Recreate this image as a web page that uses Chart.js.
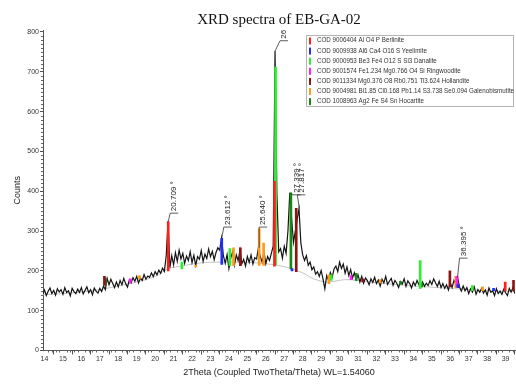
<!DOCTYPE html>
<html>
<head>
<meta charset="utf-8">
<script src="https://cdn.jsdelivr.net/npm/chart.js@4.4.0/dist/chart.umd.min.js"></script>
<style>
  html, body { margin: 0; padding: 0; background: #fff; overflow: hidden; }
  #wrap { width: 516px; height: 387px; }
</style>
</head>
<body>
<div id="wrap"><canvas id="c" width="516" height="387"></canvas></div>
<script>
// Scan: 2Theta from 13.8 deg in 0.1 deg steps
const START_ANGLE = 13.8;
const STEP = 0.1;
const counts = [
  145,141,152,138,149,157,143,151,139,155,
  147,153,141,158,146,150,137,156,148,143,
  154,146,158,142,151,160,145,153,140,157,
  149,144,156,148,162,153,181,165,179,168,
  158,172,160,176,165,181,168,159,177,170,
  183,174,186,170,182,176,191,179,187,184,
  195,186,198,190,202,194,207,199,238,324,
  208,238,215,246,224,252,230,244,219,237,
  226,248,221,239,214,236,229,251,224,242,
  231,255,236,249,228,246,258,252,282,238,
  219,241,206,232,248,215,240,226,252,218,
  229,212,236,221,240,217,233,230,258,236,
  222,248,218,236,226,244,262,752,395,248,
  256,232,262,244,300,396,330,272,300,330,
  356,270,240,226,238,214,222,203,210,192,
  198,186,201,180,155,188,176,196,184,205,
  212,198,222,206,217,194,210,188,203,182,
  195,178,190,172,186,169,182,176,165,180,
  171,184,168,177,162,179,170,186,166,174,
  181,164,176,169,158,173,167,180,161,175,
  168,157,172,163,176,165,158,172,161,169,
  163,175,166,180,170,161,174,158,168,156,
  165,152,170,158,176,168,184,160,149,162,
  150,158,143,155,147,160,141,153,146,156,
  144,152,139,157,146,150,138,155,143,149,
  141,154,145,138,156,147,158,143
];
const twoTheta = counts.map((_, i) => +(START_ANGLE + i * STEP).toFixed(2));

// Axis tick labels
const xTicks = [14,15,16,17,18,19,20,21,22,23,24,25,26,27,28,29,30,31,32,33,34,35,36,37,38,39];
const yTicks = [0,100,200,300,400,500,600,700,800];

// Fitted background
const bgAngles = [13.9, 15, 16, 17, 18, 19, 20, 20.7, 21.5, 22.5, 23.5, 24.5, 25.5, 26.5, 27.3, 28, 28.6, 29.3, 30.3, 31, 32, 33, 34, 35, 36, 37, 38, 39.5];
const bgCounts = [140, 143, 147, 153, 162, 172, 186, 205, 213, 220, 222, 222, 220, 215, 207, 195, 180, 172, 178, 176, 170, 166, 162, 159, 156, 153, 150, 148];

// Reference patterns: [2Theta, base, top]
const berlinite = [[20.709, 200, 324], [26.47, 212, 425], [38.98, 150, 172]];
const yeelimite = [[23.612, 216, 282], [27.42, 200, 206], [36.42, 158, 166], [38.35, 150, 156]];
const danalite = [[21.45, 205, 222], [24.05, 213, 256], [26.53, 215, 712], [29.55, 176, 190], [34.37, 156, 226], [37.2, 150, 163]];
const ringwoodite = [[18.65, 170, 180], [30.62, 178, 188], [36.36, 160, 186]];
const hollandite = [[17.25, 164, 186], [24.62, 213, 258], [27.65, 198, 357], [31.25, 172, 180], [35.98, 160, 200], [39.43, 150, 176]];
const galenobismutite = [[19.15, 180, 188], [22.2, 210, 214], [24.25, 213, 258], [25.64, 214, 306], [25.88, 214, 270], [29.42, 168, 190], [32.2, 170, 178], [36.3, 158, 186], [37.75, 150, 160]];
const hocartite = [[17.3, 164, 182], [27.36, 205, 396], [30.9, 176, 194], [33.3, 166, 174], [34.45, 160, 170]];

const phaseNames = [
  'COD 9006404 Al O4 P Berlinite',
  'COD 9009938 Al6 Ca4 O16 S Yeelimite',
  'COD 9000953 Be3 Fe4 O12 S Si3 Danalite',
  'COD 9001574 Fe1.234 Mg0.766 O4 Si Ringwoodite',
  'COD 9011334 Mg0.376 O8 Rb0.751 Ti3.624 Hollandite',
  'COD 9004981 Bi1.85 Cl0.168 Pb1.14 S3.738 Se0.094 Galenobismutite',
  'COD 1008963 Ag2 Fe S4 Sn Hocartite'
];
const phaseSticks = [berlinite, yeelimite, danalite, ringwoodite, hollandite, galenobismutite, hocartite];
const phaseColors = ['#ff1f1f', '#1f2dff', '#2cf02c', '#ff1fff', '#8e1414', '#ff9b1a', '#138a13'];

// Peak annotations
const peakAngles = [20.709, 23.612, 25.640, 26.5, 27.339, 27.817, 36.395];
const peakCounts = [324, 282, 258, 752, 396, 356, 184];
const peakTexts = ['20.709 °', '23.612 °', '25.640 °', '26', '27.339 °', '27.817 °', '36.395 °'];

const SANS = "'Liberation Sans', Arial, sans-serif";

// label placement: level of the label foot (counts) and sideways shift (px)
const labelStyle = {
  foot: [345, 310, 310, 778, 391, 391, 232],
  shift: [6, 6, 4, 9, 6, 2, 6]
};

const stickSets = phaseSticks.map((list, i) => ({
  type: 'bar',
  data: list.map(s => ({ x: s[0], y: [s[1], s[2]] })),
  backgroundColor: phaseColors[i],
  borderWidth: 0,
  barThickness: 2,
  grouped: false,
  order: 0
}));

const minorTicks = {
  id: 'minorTicks',
  afterDraw(chart) {
    const { ctx, chartArea } = chart;
    const xs = chart.scales.x, ys = chart.scales.y;
    ctx.save();
    ctx.strokeStyle = '#666';
    ctx.lineWidth = 1;
    ctx.beginPath();
    for (let k = 69; k <= 198; k++) {
      if (k % 5 === 0) continue;
      const v = k / 5;
      if (v < xs.min || v > xs.max) continue;
      const p = Math.round(xs.getPixelForValue(v)) + 0.5;
      ctx.moveTo(p, chartArea.bottom);
      ctx.lineTo(p, chartArea.bottom + 2);
    }
    for (let k = 1; k <= 80; k++) {
      if (k % 10 === 0) continue;
      const p = Math.round(ys.getPixelForValue(k * 10)) + 0.5;
      ctx.moveTo(chartArea.left, p);
      ctx.lineTo(chartArea.left - 2, p);
    }
    ctx.stroke();
    ctx.restore();
  }
};

const peakLabels = {
  id: 'peakLabels',
  afterDatasetsDraw(chart) {
    const { ctx } = chart;
    const xs = chart.scales.x, ys = chart.scales.y;
    ctx.save();
    ctx.strokeStyle = '#333';
    ctx.fillStyle = '#222';
    ctx.lineWidth = 0.8;
    ctx.font = '8px ' + SANS;
    peakAngles.forEach((a, i) => {
      const px = xs.getPixelForValue(a);
      const py = ys.getPixelForValue(peakCounts[i]);
      const fy = ys.getPixelForValue(labelStyle.foot[i]);
      const tx = px + labelStyle.shift[i];
      ctx.beginPath();
      ctx.moveTo(px, py);
      ctx.lineTo(tx - 4, fy);
      ctx.lineTo(tx + 4, fy);
      ctx.stroke();
      ctx.save();
      ctx.translate(tx, fy - 2);
      ctx.rotate(-Math.PI / 2);
      ctx.textAlign = 'left';
      ctx.textBaseline = 'middle';
      ctx.fillText(peakTexts[i], 0, 0);
      ctx.restore();
    });
    ctx.restore();
  }
};

const phaseLegend = {
  id: 'phaseLegend',
  afterDraw(chart) {
    const { ctx } = chart;
    ctx.save();
    ctx.fillStyle = '#fff';
    ctx.fillRect(306.5, 35.5, 207, 71);
    ctx.strokeStyle = '#b4b4b4';
    ctx.lineWidth = 1;
    ctx.strokeRect(306.5, 35.5, 207, 71);
    ctx.font = '7px ' + SANS;
    ctx.textAlign = 'left';
    ctx.textBaseline = 'middle';
    phaseNames.forEach((name, i) => {
      const y = 40.5 + i * 10.1;
      ctx.fillStyle = phaseColors[i];
      ctx.fillRect(309, y - 3, 2, 7);
      ctx.fillStyle = '#333';
      ctx.save();
      ctx.translate(317, y);
      ctx.scale(0.89, 1);
      ctx.fillText(name, 0, 0);
      ctx.restore();
    });
    ctx.restore();
  }
};

const chartTitle = {
  id: 'chartTitle',
  afterDraw(chart) {
    const { ctx, chartArea } = chart;
    ctx.save();
    ctx.font = "15px 'Liberation Serif', 'Times New Roman', serif";
    ctx.fillStyle = '#111';
    ctx.textAlign = 'center';
    ctx.textBaseline = 'middle';
    ctx.fillText('XRD spectra of EB-GA-02', (chartArea.left + chartArea.right) / 2, 20);
    ctx.restore();
  }
};

new Chart(document.getElementById('c'), {
  type: 'line',
  data: {
    datasets: [
      ...stickSets,
      {
        type: 'line',
        data: twoTheta.map((t, i) => ({ x: t, y: counts[i] })),
        borderColor: '#141414',
        borderWidth: 1.2,
        pointRadius: 0,
        tension: 0,
        order: 1
      },
      {
        type: 'line',
        data: bgAngles.map((t, i) => ({ x: t, y: bgCounts[i] })),
        borderColor: '#c4c4c4',
        borderWidth: 1,
        pointRadius: 0,
        tension: 0.3,
        order: 2
      }
    ]
  },
  options: {
    responsive: false,
    animation: false,
    devicePixelRatio: 1,
    layout: { padding: { top: 30, right: 1, left: 0, bottom: 0 } },
    plugins: {
      legend: { display: false },
      title: { display: false },
      tooltip: { enabled: false }
    },
    scales: {
      x: {
        type: 'linear',
        min: 13.92,
        max: 39.51,
        offset: false,
        afterBuildTicks(s) { s.ticks = xTicks.map(v => ({ value: v })); },
        ticks: {
          autoSkip: false,
          maxRotation: 0,
          padding: 0,
          color: '#333',
          font: { family: SANS, size: 7 }
        },
        grid: { drawOnChartArea: false, tickLength: 4, color: '#555' },
        border: { color: '#555' },
        title: {
          display: true,
          text: '2Theta (Coupled TwoTheta/Theta) WL=1.54060',
          color: '#222',
          font: { family: SANS, size: 9 },
          padding: { top: 0, bottom: 8.6 }
        },
        afterFit(s) { s.height = 36.5; }
      },
      y: {
        min: 0,
        max: 805,
        afterBuildTicks(s) { s.ticks = yTicks.map(v => ({ value: v })); },
        ticks: {
          padding: 1,
          color: '#333',
          font: { family: SANS, size: 7 }
        },
        grid: { drawOnChartArea: false, tickLength: 3, color: '#555' },
        border: { color: '#555' },
        title: {
          display: true,
          text: 'Counts',
          color: '#222',
          font: { family: SANS, size: 9 },
          padding: { top: 12.6, bottom: 0 }
        },
        afterFit(s) { s.width = 43; }
      }
    }
  },
  plugins: [minorTicks, peakLabels, phaseLegend, chartTitle]
});
</script>
</body>
</html>
